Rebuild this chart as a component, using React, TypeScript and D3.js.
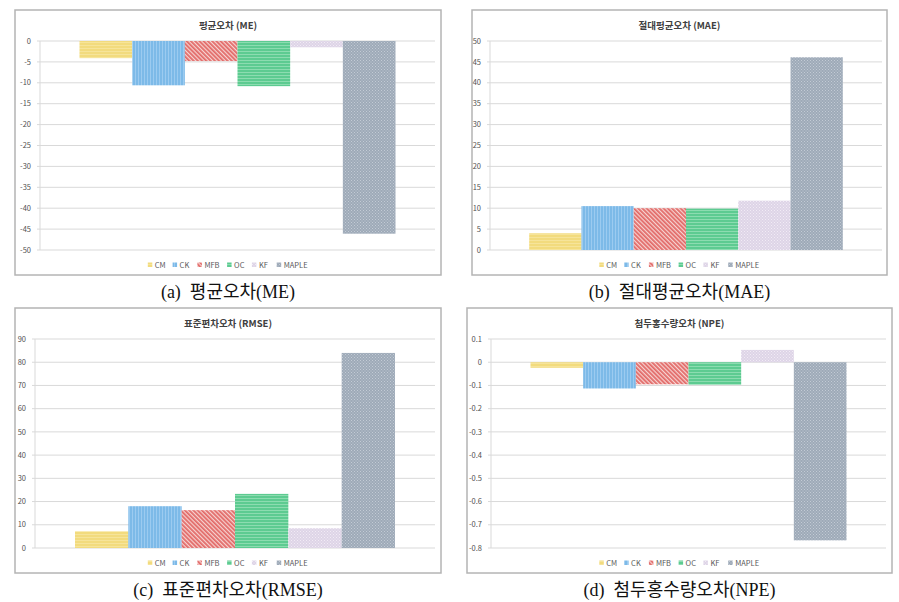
import React from "react";
import * as d3 from "d3";

const seriesNames = ["CM", "CK", "MFB", "OC", "KF", "MAPLE"];
const patternIds = ["pCM", "pCK", "pMFB", "pOC", "pKF", "pMAPLE"];

const meValues = [-4.1, -10.6, -4.8, -10.8, -1.5, -46.1];
const maeValues = [4.0, 10.5, 10.0, 9.9, 11.8, 46.1];
const rmseValues = [7.2, 18.0, 16.3, 23.3, 8.5, 84.0];
const npeValues = [-0.024, -0.113, -0.095, -0.097, 0.053, -0.767];

const meTicks = [0, -5, -10, -15, -20, -25, -30, -35, -40, -45, -50];
const maeTicks = [50, 45, 40, 35, 30, 25, 20, 15, 10, 5, 0];
const rmseTicks = [90, 80, 70, 60, 50, 40, 30, 20, 10, 0];
const npeTicks = [0.1, 0, -0.1, -0.2, -0.3, -0.4, -0.5, -0.6, -0.7, -0.8];

const titles = ["평균오차 (ME)", "절대평균오차 (MAE)", "표준편차오차 (RMSE)", "첨두홍수량오차 (NPE)"];
const captions = ["(a)\u00a0\u00a0평균오차(ME)", "(b)\u00a0\u00a0절대평균오차(MAE)", "(c)\u00a0\u00a0표준편차오차(RMSE)", "(d)\u00a0\u00a0첨두홍수량오차(NPE)"];

type PanelCfg = {
  values: number[];
  ticks: number[];
  title: string;
  caption: string;
  frame: [number, number, number, number];
  plot: [number, number, number, number];
  legendY: number;
  captionY: number;
};

const panels: PanelCfg[] = [
  { values: meValues, ticks: meTicks, title: titles[0], caption: captions[0], frame: [15, 10, 441, 275], plot: [40, 41, 435, 250], legendY: 265, captionY: 292 },
  { values: maeValues, ticks: maeTicks, title: titles[1], caption: captions[1], frame: [472, 10, 887, 275], plot: [490, 41, 882, 250], legendY: 265, captionY: 292 },
  { values: rmseValues, ticks: rmseTicks, title: titles[2], caption: captions[2], frame: [15, 308, 441, 573], plot: [35, 339, 435, 548], legendY: 563, captionY: 590 },
  { values: npeValues, ticks: npeTicks, title: titles[3], caption: captions[3], frame: [467, 308, 892, 573], plot: [491, 339, 886, 548], legendY: 563, captionY: 590 },
];

const sans = "'Noto Sans CJK KR', 'Noto Sans', sans-serif";
const serif = "'Liberation Serif', 'DejaVu Serif', 'Noto Sans CJK KR', serif";

function Defs() {
  return (
    <defs>
      <pattern id="pCM" width={3} height={3} patternUnits="userSpaceOnUse">
        <rect width={3} height={3} fill="#F2DB7E" />
        <rect width={3} height={1} fill="#F6E49A" />
      </pattern>
      <pattern id="pCK" width={3} height={3} patternUnits="userSpaceOnUse">
        <rect width={3} height={3} fill="#7DBAE8" />
        <rect width={1} height={3} fill="#9CCBF0" />
      </pattern>
      <pattern id="pMFB" width={3} height={3} patternUnits="userSpaceOnUse" patternTransform="rotate(-45)">
        <rect width={3} height={3} fill="#F6D4D2" />
        <rect width={1.8} height={3} fill="#E26A68" />
      </pattern>
      <pattern id="pOC" width={3} height={3} patternUnits="userSpaceOnUse">
        <rect width={3} height={3} fill="#5DCB91" />
        <rect width={3} height={1} fill="#8CDCB0" />
      </pattern>
      <pattern id="pKF" width={3} height={3} patternUnits="userSpaceOnUse">
        <rect width={3} height={3} fill="#DED4E7" />
        <rect width={1} height={1} fill="#F1ECF5" />
        <rect x={1.5} y={1.5} width={1} height={1} fill="#F1ECF5" />
      </pattern>
      <pattern id="pMAPLE" width={3} height={3} patternUnits="userSpaceOnUse">
        <rect width={3} height={3} fill="#9EAAB8" />
        <rect width={1} height={1} fill="#C3CBD5" />
        <rect x={1.5} y={1.5} width={1} height={1} fill="#C3CBD5" />
      </pattern>
    </defs>
  );
}

function Panel({ cfg }: { cfg: PanelCfg }) {
  const [fx0, fy0, fx1, fy1] = cfg.frame;
  const [px0, py0, px1, py1] = cfg.plot;
  const tMax = d3.max(cfg.ticks) as number;
  const tMin = d3.min(cfg.ticks) as number;
  const y = d3.scaleLinear().domain([tMin, tMax]).range([py1, py0]);
  const x = d3.scaleBand<string>().domain(seriesNames).range([px0, px1]).paddingInner(0).paddingOuter(0.75);
  const cx = (fx0 + fx1) / 2;

  const fontSize = 7.5;
  const widths = seriesNames.map((s) => 7 + s.length * 4.9 + 8);
  const total = d3.sum(widths) - 8;
  let lx = cx - total / 2;
  const legendItems = seriesNames.map((s, i) => {
    const item = { s, i, x: lx };
    lx += widths[i];
    return item;
  });

  return (
    <g>
      <rect x={fx0} y={fy0} width={fx1 - fx0} height={fy1 - fy0} fill="#fff" stroke="#b4b4b4" strokeWidth={1.5} />
      <text x={cx} y={fy0 + 16} dy="0.35em" textAnchor="middle" fontFamily={sans} fontWeight="bold" fontSize={9.5} fill="#404040">
        {cfg.title}
      </text>
      {cfg.ticks.map((t) => (
        <g key={t}>
          <line x1={px0 - 3} x2={px1} y1={y(t)} y2={y(t)} stroke="#d9d9d9" strokeWidth={1} />
          <text x={px0 - 9} y={y(t)} dy="0.35em" textAnchor="end" fontFamily={sans} fontSize={7.5} fill="#505050">
            {String(t)}
          </text>
        </g>
      ))}
      <line x1={px0} x2={px0} y1={py0} y2={py1} stroke="#d9d9d9" strokeWidth={1} />
      {cfg.values.map((v, i) => {
        const y0 = y(0);
        const yv = y(v);
        return (
          <rect
            key={seriesNames[i]}
            x={x(seriesNames[i])}
            width={x.bandwidth()}
            y={Math.min(y0, yv)}
            height={Math.abs(yv - y0)}
            fill={`url(#${patternIds[i]})`}
          />
        );
      })}
      {legendItems.map((it) => (
        <g key={it.s}>
          <rect x={it.x} y={cfg.legendY - 2.5} width={4.5} height={4.5} fill={`url(#${patternIds[it.i]})`} />
          <text x={it.x + 7} y={cfg.legendY} dy="0.35em" fontFamily={sans} fontSize={fontSize} fill="#595959">
            {it.s}
          </text>
        </g>
      ))}
      <text x={cx} y={cfg.captionY} dy="0.35em" textAnchor="middle" fontFamily={serif} fontSize={18} fill="#111">
        {cfg.caption}
      </text>
    </g>
  );
}

export default function App() {
  return (
    <svg width={899} height={602} style={{ position: "absolute", left: 0, top: 0, background: "#fff" }}>
      <Defs />
      <rect width={899} height={602} fill="#fff" />
      {panels.map((p, i) => (
        <Panel key={i} cfg={p} />
      ))}
    </svg>
  );
}
